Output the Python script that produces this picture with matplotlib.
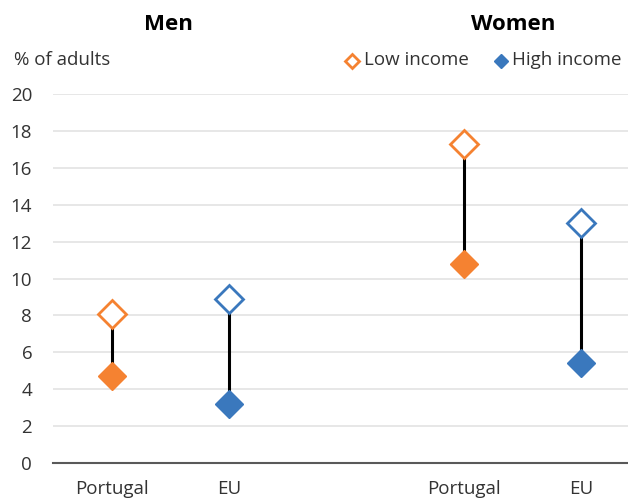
import numpy as np
import matplotlib.pyplot as plt

plt.rcParams['font.family'] = ['Open Sans', 'DejaVu Sans']

groups = ['Portugal', 'EU', 'Portugal', 'EU']
positions = [0, 1, 3, 4]
low_income = [8.1, 8.9, 17.3, 13.0]
high_income = [4.7, 3.2, 10.8, 5.4]
colors = ['#f58231', '#3a78bd', '#f58231', '#3a78bd']
panel_titles = ['Men', 'Women']
yticks = [0, 2, 4, 6, 8, 10, 12, 14, 16, 18, 20]


def main():
    fig = plt.figure(figsize=(6.28, 4.98), dpi=100)
    ax = fig.add_axes([53 / 628, 1 - 463 / 498, 1 - 53 / 628, 369 / 498])

    for x, lo, hi, c in zip(positions, low_income, high_income, colors):
        ax.plot([x, x], [hi, lo], color='black', lw=2.2, zorder=2)
        ax.plot(x, lo, 'D', ms=14, mfc='white', mec=c, mew=2, zorder=3)
        ax.plot(x, hi, 'D', ms=14, mfc=c, mec=c, mew=1, zorder=3)

    ax.set_xlim(-0.5, 4.4)
    ax.set_ylim(0, 20)
    ax.set_yticks(yticks)
    ax.set_xticks(positions)
    ax.set_xticklabels(groups)
    ax.grid(axis='y', color='#e3e3e3', lw=1.2)
    ax.set_axisbelow(True)
    for s in ['top', 'right', 'left']:
        ax.spines[s].set_visible(False)
    ax.spines['bottom'].set_color('#595959')
    ax.spines['bottom'].set_linewidth(1.5)
    ax.tick_params(length=0, labelsize=13.5, colors='#333333')
    ax.tick_params(axis='x', pad=12)
    ax.tick_params(axis='y', pad=15)

    fig.text(168 / 628, 1 - 24 / 498, panel_titles[0], ha='center', va='center',
             fontsize=16, fontweight='bold')
    fig.text(513 / 628, 1 - 24 / 498, panel_titles[1], ha='center', va='center',
             fontsize=16, fontweight='bold')
    fig.text(14 / 628, 1 - 60 / 498, '% of adults', ha='left', va='center',
             fontsize=13.5, color='#333333')

    # legend
    fig.lines.append(plt.Line2D([352 / 628], [1 - 61 / 498], marker='D', ms=7,
                                mfc='white', mec='#f58231', mew=2,
                                transform=fig.transFigure))
    fig.text(364 / 628, 1 - 60 / 498, 'Low income', ha='left', va='center',
             fontsize=13.5, color='#333333')
    fig.lines.append(plt.Line2D([501 / 628], [1 - 61 / 498], marker='D', ms=7,
                                mfc='#3a78bd', mec='#3a78bd',
                                transform=fig.transFigure))
    fig.text(512 / 628, 1 - 60 / 498, 'High income', ha='left', va='center',
             fontsize=13.5, color='#333333')

    plt.savefig('out.png', dpi=100)


if __name__ == '__main__':
    main()
